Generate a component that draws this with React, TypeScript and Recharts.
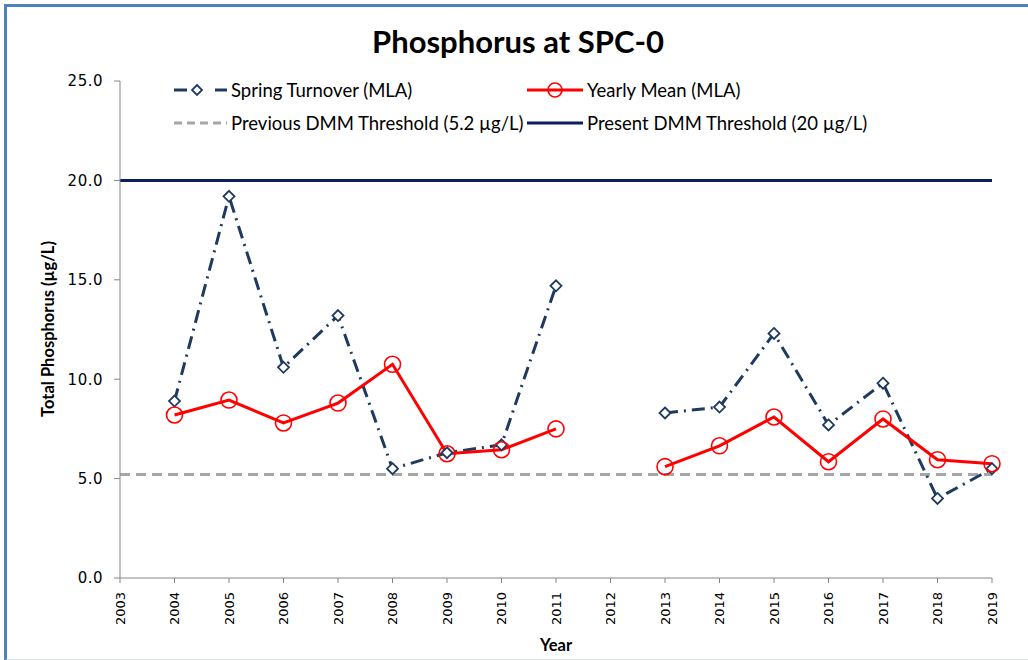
import React from "react";
import { LineChart, Line, XAxis, YAxis, ReferenceLine } from "recharts";

// values (µg/L); 2012 has no sample
const years = [2004, 2005, 2006, 2007, 2008, 2009, 2010, 2011, 2012, 2013, 2014, 2015, 2016, 2017, 2018, 2019];
const springTurnover = [8.9, 19.2, 10.6, 13.2, 5.5, 6.3, 6.7, 14.7, null, 8.3, 8.6, 12.3, 7.7, 9.8, 4.0, 5.5];
const yearlyMean = [8.2, 8.95, 7.8, 8.8, 10.75, 6.25, 6.45, 7.5, null, 5.6, 6.65, 8.1, 5.85, 8.0, 5.95, 5.75];
const yearTicks = [2003, 2004, 2005, 2006, 2007, 2008, 2009, 2010, 2011, 2012, 2013, 2014, 2015, 2016, 2017, 2018, 2019];
const valueTicks = [0, 5, 10, 15, 20, 25];
const previousThreshold = 5.2;
const presentThreshold = 20;

const data = years.map((year, i) => ({
    year,
    spring: springTurnover[i],
    mean: yearlyMean[i],
}));

const NAVY = "#1F3A5F";
const RED = "#FF0000";
const GREY = "#A6A6A6";
const DARK = "#0B1F5E";
const calibri = "Lato, 'Open Sans', sans-serif";

function Diamond(props: any) {
    const { cx, cy, value } = props;
    if (value == null || cx == null || cy == null) return null;
    const s = 5.5;
    return (
        <path
            d={`M${cx},${cy - s} L${cx + s},${cy} L${cx},${cy + s} L${cx - s},${cy} Z`}
            fill="#fff"
            stroke={NAVY}
            strokeWidth={1.8}
        />
    );
}

function Ring(props: any) {
    const { cx, cy, value } = props;
    if (value == null || cx == null || cy == null) return null;
    return <circle cx={cx} cy={cy} r={8} fill="none" stroke={RED} strokeWidth={1.6} />;
}

function YearTick(props: any) {
    const { x, y, payload } = props;
    return (
        <g transform={`translate(${x},${y})`}>
            <text
                transform="rotate(-90)"
                x={0}
                y={0}
                dy="0.36em"
                textAnchor="end"
                fontFamily="'DejaVu Sans', Verdana, sans-serif"
                fontSize={13}
                fill="#000"
            >
                {payload.value}
            </text>
        </g>
    );
}

function LegendRow({ left, top, symbol, label }: { left: number; top: number; symbol: React.ReactNode; label: string }) {
    return (
        <div style={{ position: "absolute", left, top, height: 20, display: "flex", alignItems: "center" }}>
            <svg width={62} height={20} style={{ display: "block" }}>{symbol}</svg>
            <span style={{ marginLeft: 4, fontFamily: calibri, fontSize: 18.5, color: "#000", whiteSpace: "nowrap" }}>{label}</span>
        </div>
    );
}

export default function App() {
    return (
        <div style={{ position: "absolute", left: 0, top: 0, width: 1028, height: 660, background: "#fff", overflow: "hidden" }}>
            {/* frame */}
            <div
                style={{
                    position: "absolute",
                    left: 4,
                    top: 4,
                    width: 1030,
                    height: 652,
                    borderTop: "3px solid #4F81BD",
                    borderLeft: "3px solid #4F81BD",
                    borderBottom: "3px solid #DCE6F2",
                }}
            />
            <div
                style={{
                    position: "absolute",
                    left: 0,
                    width: 1028,
                    top: 21,
                    textAlign: "center",
                    fontFamily: calibri,
                    fontWeight: 700,
                    fontSize: 31,
                    lineHeight: "40px",
                    color: "#000",
                    paddingLeft: 4,
                }}
            >
                Phosphorus at SPC-0
            </div>

            <LineChart
                width={1028}
                height={660}
                data={data}
                margin={{ top: 81, right: 36, bottom: 22, left: 50 }}
                style={{ position: "absolute", left: 0, top: 0 }}
            >
                <XAxis
                    dataKey="year"
                    type="number"
                    domain={[2003, 2019]}
                    ticks={yearTicks}
                    interval={0}
                    height={60}
                    tickSize={5}
                    tickMargin={9}
                    stroke="#868686"
                    tick={<YearTick />}
                />
                <YAxis
                    domain={[0, 25]}
                    ticks={valueTicks}
                    width={70}
                    tickSize={6}
                    tickMargin={11}
                    stroke="#868686"
                    tickFormatter={(v: number) => v.toFixed(1)}
                    tick={{ fontFamily: "'DejaVu Sans', Verdana, sans-serif", fontSize: 15, letterSpacing: 0.5, fill: "#000" }}
                />
                <ReferenceLine y={previousThreshold} stroke={GREY} strokeWidth={3} strokeDasharray="10 6" />
                <ReferenceLine y={presentThreshold} stroke={DARK} strokeWidth={3} />
                <Line
                    dataKey="spring"
                    stroke={NAVY}
                    strokeWidth={3}
                    strokeDasharray="13 6 2 6"
                    dot={<Diamond />}
                    isAnimationActive={false}
                    connectNulls={false}
                />
                <Line
                    dataKey="mean"
                    stroke={RED}
                    strokeWidth={3}
                    dot={<Ring />}
                    isAnimationActive={false}
                    connectNulls={false}
                />
            </LineChart>

            <div
                style={{
                    position: "absolute",
                    left: 48,
                    top: 329,
                    transform: "translate(-50%, -50%) rotate(-90deg)",
                    fontFamily: calibri,
                    fontWeight: 700,
                    fontSize: 16.5,
                    whiteSpace: "nowrap",
                    color: "#000",
                }}
            >
                Total Phosphorus (µg/L)
            </div>
            <div
                style={{
                    position: "absolute",
                    left: 556,
                    top: 645,
                    transform: "translate(-50%, -50%)",
                    fontFamily: calibri,
                    fontWeight: 700,
                    fontSize: 16.5,
                    color: "#000",
                }}
            >
                Year
            </div>

            <LegendRow
                left={165}
                top={80}
                label="Spring Turnover (MLA)"
                symbol={
                    <g>
                        <line x1={9} y1={10} x2={22} y2={10} stroke={NAVY} strokeWidth={3} />
                        <path d="M32,5 L37,10 L32,15 L27,10 Z" fill="#fff" stroke={NAVY} strokeWidth={1.8} />
                        <line x1={50} y1={10} x2={62} y2={10} stroke={NAVY} strokeWidth={3} />
                    </g>
                }
            />
            <LegendRow
                left={521}
                top={80}
                label="Yearly Mean (MLA)"
                symbol={
                    <g>
                        <line x1={6} y1={10} x2={62} y2={10} stroke={RED} strokeWidth={3} />
                        <circle cx={34} cy={10} r={7} fill="none" stroke={RED} strokeWidth={1.6} />
                    </g>
                }
            />
            <LegendRow
                left={165}
                top={113}
                label="Previous DMM Threshold (5.2 µg/L)"
                symbol={<line x1={9} y1={10} x2={62} y2={10} stroke={GREY} strokeWidth={3} strokeDasharray="8 5" />}
            />
            <LegendRow
                left={521}
                top={113}
                label="Present DMM Threshold (20 µg/L)"
                symbol={<line x1={6} y1={10} x2={62} y2={10} stroke={DARK} strokeWidth={3} />}
            />
        </div>
    );
}
